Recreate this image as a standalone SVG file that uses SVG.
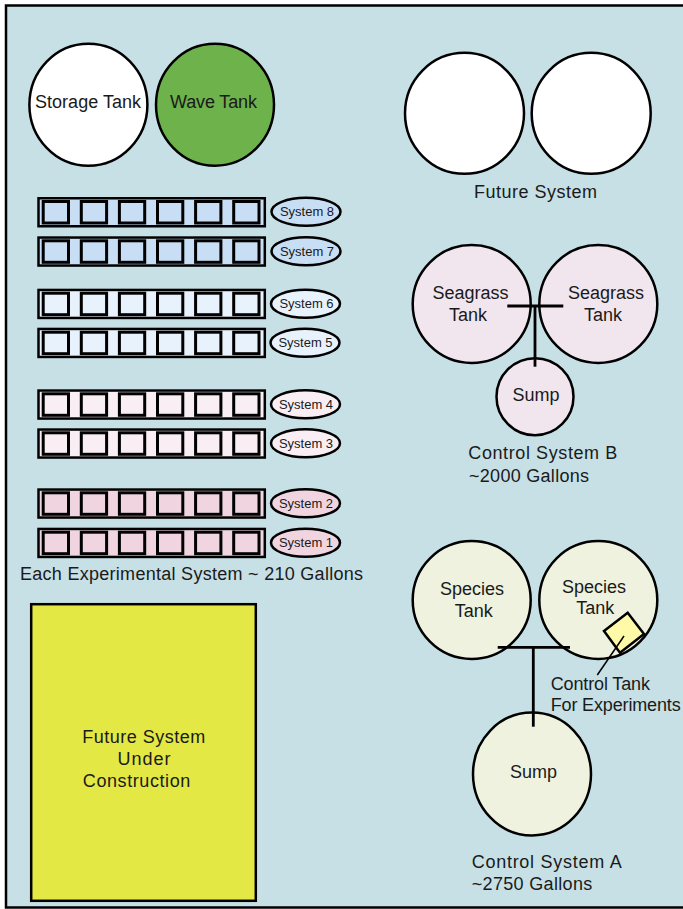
<svg xmlns="http://www.w3.org/2000/svg" width="683" height="909" viewBox="0 0 683 909">
<style>
text{font-family:"Liberation Sans",Arial,sans-serif;fill:#1a1a1a;font-size:18px}
.m{text-anchor:middle}
.lbl{font-size:13px;text-anchor:middle}
.tank{stroke:#000;stroke-width:2.5}
.tray{stroke:#000;stroke-width:2.5}
.sq{stroke:#000;stroke-width:3}
.pipe{stroke:#000;stroke-width:2.8;fill:none}
.c1{fill:#c8def4}.c2{fill:#e8f2fc}.c3{fill:#f8eef3}.c4{fill:#f0d5e0}
</style>
<defs>
<g id="squares">
<rect class="sq" x="43.2" y="4.5" width="25.3" height="21.5"/>
<rect class="sq" x="81.3" y="4.5" width="25.3" height="21.5"/>
<rect class="sq" x="119.4" y="4.5" width="25.3" height="21.5"/>
<rect class="sq" x="157.5" y="4.5" width="25.3" height="21.5"/>
<rect class="sq" x="195.6" y="4.5" width="25.3" height="21.5"/>
<rect class="sq" x="233.7" y="4.5" width="25.3" height="21.5"/>
</g>
</defs>
<rect x="0" y="0" width="683" height="909" fill="#fff"/>
<rect x="6" y="5.5" width="700" height="902" fill="#c6e0e6" stroke="#000" stroke-width="2.5"/>

<g id="storage-tank">
<ellipse class="tank" cx="88.4" cy="104.7" rx="59" ry="61" fill="#fff"/>
<text class="m" x="88" y="108" textLength="106">Storage Tank</text>
</g>
<g id="wave-tank">
<ellipse class="tank" cx="215" cy="104.7" rx="59" ry="61" fill="#6db24a"/>
<text class="m" x="213.5" y="108" textLength="87">Wave Tank</text>
</g>

<g id="future-system">
<ellipse class="tank" cx="464.5" cy="113.3" rx="59.5" ry="60.5" fill="#fff"/>
<ellipse class="tank" cx="591.2" cy="113.3" rx="59.5" ry="60.5" fill="#fff"/>
<text class="m" x="535.5" y="198" textLength="123">Future System</text>
</g>

<g id="system-8" transform="translate(0,197)">
<rect class="tray c1" x="38.5" y="1.25" width="226.3" height="28"/>
<use href="#squares" class="c1"/>
<ellipse class="tank c1" cx="306" cy="14.8" rx="34.5" ry="14"/>
<text class="lbl" x="307" y="19.3">System 8</text>
</g>
<g id="system-7" transform="translate(0,236.3)">
<rect class="tray c1" x="38.5" y="1.25" width="226.3" height="28"/>
<use href="#squares" class="c1"/>
<ellipse class="tank c1" cx="306" cy="15" rx="34.5" ry="14"/>
<text class="lbl" x="307" y="19.5">System 7</text>
</g>
<g id="system-6" transform="translate(0,288.7)">
<rect class="tray c2" x="38.5" y="1.25" width="226.3" height="28"/>
<use href="#squares" class="c2"/>
<ellipse class="tank c2" cx="305.5" cy="15" rx="34.5" ry="14"/>
<text class="lbl" x="306.5" y="19.5">System 6</text>
</g>
<g id="system-5" transform="translate(0,327.7)">
<rect class="tray c2" x="38.5" y="1.25" width="226.3" height="28"/>
<use href="#squares" class="c2"/>
<ellipse class="tank c2" cx="305" cy="15" rx="34.5" ry="14"/>
<text class="lbl" x="305.5" y="19.5">System 5</text>
</g>
<g id="system-4" transform="translate(0,389.3)">
<rect class="tray c3" x="38.5" y="1.25" width="226.3" height="28"/>
<use href="#squares" class="c3"/>
<ellipse class="tank c3" cx="305.5" cy="15" rx="34.5" ry="14"/>
<text class="lbl" x="306" y="19.5">System 4</text>
</g>
<g id="system-3" transform="translate(0,428.3)">
<rect class="tray c3" x="38.5" y="1.25" width="226.3" height="28"/>
<use href="#squares" class="c3"/>
<ellipse class="tank c3" cx="305.5" cy="15" rx="34.5" ry="14"/>
<text class="lbl" x="306" y="19.5">System 3</text>
</g>
<g id="system-2" transform="translate(0,488.3)">
<rect class="tray c4" x="38.5" y="1.25" width="226.3" height="28"/>
<use href="#squares" class="c4"/>
<ellipse class="tank c4" cx="305.5" cy="15" rx="34.5" ry="14"/>
<text class="lbl" x="306" y="19.5">System 2</text>
</g>
<g id="system-1" transform="translate(0,527.7)">
<rect class="tray c4" x="38.5" y="1.25" width="226.3" height="28"/>
<use href="#squares" class="c4"/>
<ellipse class="tank c4" cx="305.5" cy="15" rx="34.5" ry="14"/>
<text class="lbl" x="306" y="19.5">System 1</text>
</g>
<text x="20" y="580" textLength="343">Each Experimental System ~ 210 Gallons</text>

<g id="future-construction">
<rect x="31.2" y="604.2" width="224.6" height="296.6" fill="#e3e844" stroke="#000" stroke-width="2.5"/>
<text x="82.3" y="743" textLength="123">Future System</text>
<text x="117.6" y="765" textLength="53">Under</text>
<text x="82.8" y="787" textLength="107.5">Construction</text>
</g>

<g id="control-system-b">
<circle class="tank" cx="471.7" cy="304" r="59" fill="#f1e5ee"/>
<circle class="tank" cx="598.3" cy="304" r="59" fill="#f1e5ee"/>
<circle class="tank" cx="535" cy="396.7" r="38.5" fill="#f1e5ee"/>
<text class="m" x="470.5" y="299.3">Seagrass</text>
<text class="m" x="468" y="321">Tank</text>
<text class="m" x="606" y="299.3">Seagrass</text>
<text class="m" x="603" y="321">Tank</text>
<text class="m" x="536" y="400.7">Sump</text>
<text x="468.3" y="459" textLength="149">Control System B</text>
<text x="469" y="481.7" textLength="120">~2000 Gallons</text>
</g>

<g id="control-system-a">
<circle class="tank" cx="471.7" cy="600" r="59" fill="#eef2de"/>
<circle class="tank" cx="598.3" cy="600" r="59" fill="#eef2de"/>
<ellipse class="tank" cx="532" cy="774" rx="59" ry="61.5" fill="#eef2de"/>
<text class="m" x="472" y="595">Species</text>
<text class="m" x="473.7" y="616.7">Tank</text>
<text class="m" x="594" y="593.3">Species</text>
<text class="m" x="595.3" y="614">Tank</text>
<text class="m" x="533.5" y="778">Sump</text>
<text x="471.7" y="868.3" textLength="150">Control System A</text>
<text x="471.7" y="890" textLength="120.6">~2750 Gallons</text>
</g>

<g id="control-tank">
<polygon points="627.7,612.7 644,634 620,652.7 604,631" fill="#fffaa8" stroke="#000" stroke-width="2.5"/>
<text x="550.7" y="690" textLength="99.3">Control Tank</text>
<text x="550.7" y="710.7" textLength="130">For Experiments</text>
</g>

<g id="connectors">
<line class="pipe" x1="507.3" y1="306" x2="563.3" y2="306"/>
<line class="pipe" x1="535" y1="306" x2="535" y2="366.7"/>
<line class="pipe" x1="497.7" y1="647.3" x2="570" y2="647.3"/>
<line class="pipe" x1="533.3" y1="647.3" x2="533.3" y2="726.7"/>
<line x1="624" y1="636" x2="597.3" y2="675" stroke="#000" stroke-width="1.5"/>
</g>
</svg>
